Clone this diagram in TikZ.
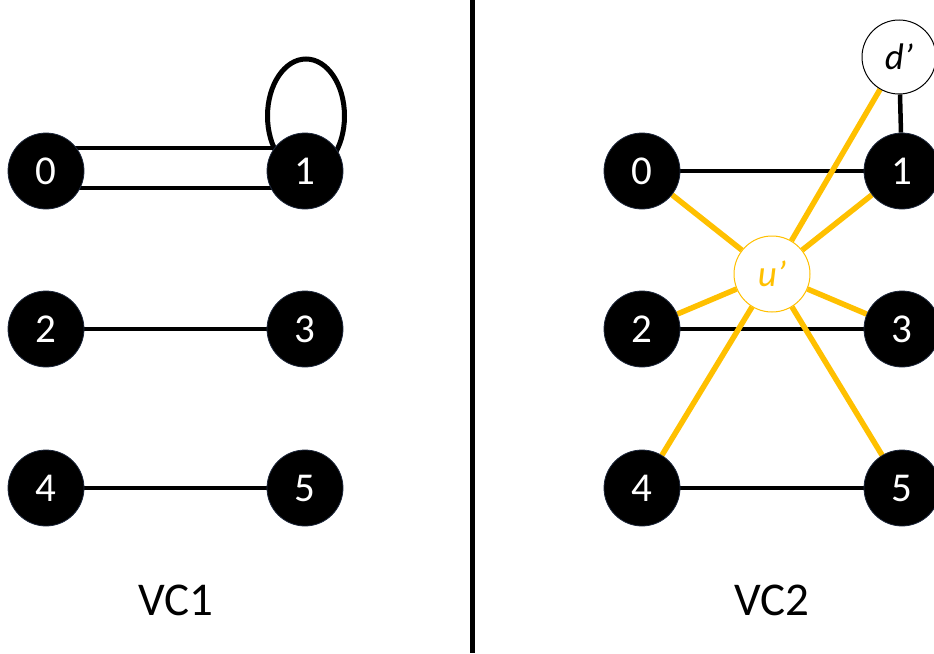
\documentclass[tikz,border=0pt]{standalone}
\usepackage{fontspec}
\setmainfont{Carlito}
\definecolor{gold}{RGB}{255,192,0}
\definecolor{navy}{RGB}{30,40,60}
\pgfdeclarelayer{bg}
\pgfsetlayers{bg,main}
\begin{document}
\begin{tikzpicture}[x=1pt,y=-1pt,
  vtx/.style={circle,fill=black,draw=navy,line width=0.8pt,minimum size=76pt,inner sep=0pt,text=white,font=\fontsize{41}{41}\selectfont},
  wvtx/.style={circle,fill=white,draw=black,line width=1pt,minimum size=74pt,inner sep=0pt,font=\fontsize{37}{37}\selectfont\itshape},
  uvtx/.style={circle,fill=white,draw=gold,line width=1pt,minimum size=76pt,inner sep=0pt,text=gold,font=\fontsize{37}{37}\selectfont\itshape},
  edge/.style={line width=4.5pt,black},
  yedge/.style={line width=5.5pt,gold},
  lbl/.style={font=\fontsize{47}{47}\selectfont}]
\useasboundingbox (0,0) rectangle (934,653);
% divider
\coordinate (dtop) at (472,0);
\coordinate (dbot) at (472,653);
\draw[line width=5pt] (dtop) -- (dbot);
% left graph
\node[vtx] (a0) at (46,171) {0};
\node[vtx] (a1) at (305,171) {1};
\node[vtx] (a2) at (46,329) {2};
\node[vtx] (a3) at (305,329) {3};
\node[vtx] (a4) at (46,488) {4};
\node[vtx] (a5) at (305,488) {5};
\coordinate (lc) at (306,116);
\begin{pgfonlayer}{bg}
\draw[line width=5pt] (lc) ellipse [x radius=38.5, y radius=57];
\draw[edge] ([yshift=23pt]a0.center) -- ([yshift=23pt]a1.center);
\draw[edge] ([yshift=-17pt]a0.center) -- ([yshift=-17pt]a1.center);
\draw[edge] (a2) -- (a3);
\draw[edge] (a4) -- (a5);
\end{pgfonlayer}
\node[lbl] (vc1) at (176,600) {VC1};
% right graph
\node[vtx] (b0) at (642,171) {0};
\node[vtx] (b1) at (902,171) {1};
\node[vtx] (b2) at (642,329) {2};
\node[vtx] (b3) at (902,329) {3};
\node[vtx] (b4) at (642,488) {4};
\node[vtx] (b5) at (902,488) {5};
\node[wvtx] (d) at (899,57) {d’};
\node[uvtx] (u) at (772,274) {u’};
\begin{pgfonlayer}{bg}
\draw[edge] (b0) -- (b1);
\draw[edge] (b2) -- (b3);
\draw[edge] (b4) -- (b5);
\draw[edge] (d) -- (b1);
\foreach \t in {b0,b1,b2,b3,b4,b5,d}{\draw[yedge] (u) -- (\t);}
\end{pgfonlayer}
\node[lbl] (vc2) at (772,600) {VC2};
\end{tikzpicture}
\end{document}
